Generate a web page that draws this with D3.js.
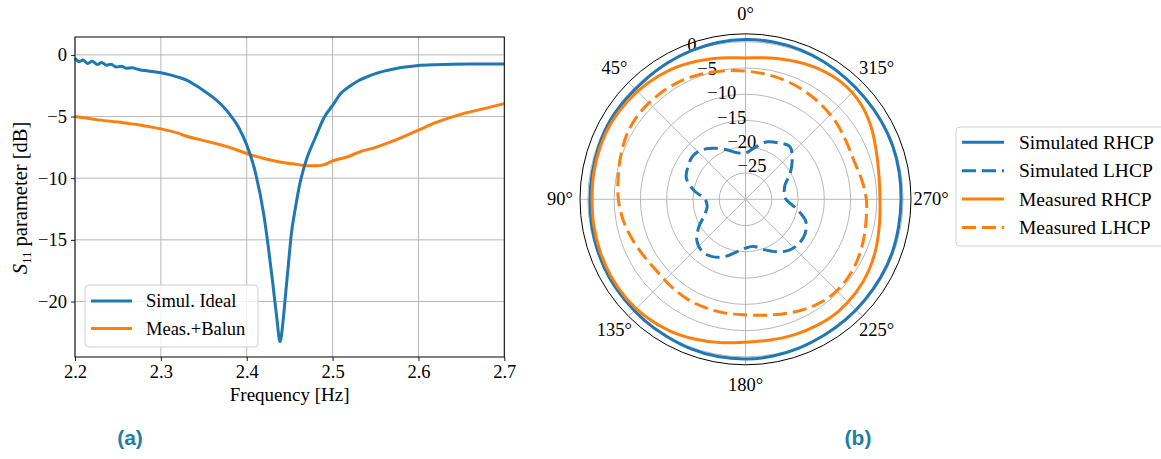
<!DOCTYPE html>
<html><head><meta charset="utf-8">
<script src="https://cdn.jsdelivr.net/npm/d3@7"></script>
<style>body{margin:0;background:#fff}svg{display:block}</style>
</head><body><svg id="c" width="1161" height="459"></svg>
<script>
// ---------- data: left panel (S11) ----------
const xTicks = [2.2, 2.3, 2.4, 2.5, 2.6, 2.7];
const xTickLabels = ["2.2", "2.3", "2.4", "2.5", "2.6", "2.7"];
const yTicks = [0, -5, -10, -15, -20];
const yTickLabels = ["0", "\u22125", "\u221210", "\u221215", "\u221220"];
const simFreq = [2.200,2.205,2.209,2.215,2.220,2.226,2.231,2.237,2.242,2.248,2.254,2.260,2.266,2.275,2.285,2.300,2.310,2.320,2.330,2.340,2.350,2.360,2.370,2.380,2.390,2.400,2.410,2.420,2.425,2.430,2.435,2.4388,2.442,2.4446,2.448,2.452,2.457,2.462,2.466,2.470,2.475,2.480,2.490,2.500,2.510,2.520,2.530,2.540,2.550,2.560,2.570,2.580,2.590,2.600,2.620,2.640,2.660,2.680,2.700];
const simS11 = [-0.27,-0.55,-0.42,-0.70,-0.52,-0.78,-0.62,-0.85,-0.75,-0.98,-0.92,-1.08,-1.05,-1.20,-1.30,-1.45,-1.60,-1.80,-2.05,-2.45,-2.90,-3.40,-4.00,-4.80,-5.80,-7.30,-9.50,-13.0,-15.5,-18.3,-21.3,-23.25,-21.8,-19.9,-17.4,-14.5,-12.3,-10.4,-9.3,-8.4,-7.5,-6.7,-5.1,-4.1,-3.1,-2.55,-2.10,-1.78,-1.52,-1.32,-1.16,-1.03,-0.94,-0.87,-0.80,-0.76,-0.74,-0.73,-0.73];
const measFreq = [2.200,2.225,2.250,2.280,2.300,2.320,2.330,2.350,2.380,2.400,2.420,2.440,2.460,2.470,2.480,2.490,2.500,2.520,2.530,2.550,2.570,2.600,2.620,2.650,2.680,2.700];
const measS11 = [-5.0,-5.25,-5.45,-5.75,-6.0,-6.35,-6.6,-6.95,-7.5,-8.0,-8.4,-8.7,-8.9,-9.0,-9.0,-8.9,-8.6,-8.2,-7.9,-7.5,-7.0,-6.1,-5.5,-4.8,-4.3,-3.95];

// ---------- data: right panel (polar pattern, theta deg counter-clockwise from top) ----------
const theta = [0,10,20,30,40,50,60,70,80,90,100,110,120,130,140,150,160,170,180,190,200,210,220,230,240,250,260,270,280,290,300,310,320,330,340,350];
const simRHCP = [0.4,0.3,0.1,-0.1,-0.3,-0.3,-0.2,-0.3,-0.4,-0.4,-0.3,-0.2,-0.1,-0.1,0.0,0.1,0.3,0.4,0.4,0.3,0.1,-0.1,-0.2,-0.3,-0.3,-0.3,-0.4,-0.4,-0.3,-0.2,-0.2,-0.2,-0.1,0.1,0.3,0.4];
const simLHCP = [-21.2,-21.0,-20.0,-18.8,-17.6,-17.0,-17.4,-18.0,-20.0,-22.3,-22.6,-21.8,-19.8,-17.9,-17.1,-17.4,-18.4,-19.8,-20.7,-20.9,-19.8,-18.5,-17.3,-16.8,-16.9,-17.8,-20.3,-22.3,-22.5,-22.0,-20.2,-18.4,-16.9,-17.6,-18.4,-20.0];
const measRHCP = [-3.1,-2.7,-2.1,-1.5,-1.1,-0.8,-0.6,-0.6,-0.7,-0.8,-0.7,-0.6,-0.5,-0.5,-0.7,-1.1,-1.7,-2.3,-2.8,-2.8,-2.6,-2.4,-2.3,-2.5,-2.9,-3.5,-4.1,-4.4,-4.2,-3.5,-2.4,-1.5,-1.2,-1.5,-2.1,-2.7];
const measLHCP = [-5.6,-5.2,-4.7,-4.3,-4.1,-4.0,-4.2,-4.8,-5.4,-5.8,-6.4,-7.2,-7.9,-8.3,-8.2,-8.0,-8.0,-8.0,-8.0,-7.6,-6.9,-6.1,-5.5,-5.4,-5.7,-6.2,-6.7,-7.0,-7.6,-8.1,-7.9,-7.4,-7.0,-6.6,-6.2,-5.9];
const rTicks = [0, -5, -10, -15, -20, -25];
const rTickLabels = ["0", "\u22125", "\u221210", "\u221215", "\u221220", "\u221225"];
const angleTicks = [0, 45, 90, 135, 180, 225, 270, 315];
const angleTickLabels = ["0\u00b0","45\u00b0","90\u00b0","135\u00b0","180\u00b0","225\u00b0","270\u00b0","315\u00b0"];
const polarSeries = ["Simulated RHCP", "Simulated LHCP", "Measured RHCP", "Measured LHCP"];
const lineSeries = ["Simul. Ideal", "Meas.+Balun"];

const BLUE = "#1f77b4", ORANGE = "#ff7f0e", GRID = "#b0b0b0";
const SERIF = "'Liberation Serif','Times New Roman',serif";
const svg = d3.select("#c");

// ================= LEFT PANEL =================
const L = {x0: 75, x1: 504.3, y0: 37, y1: 357};
const x = d3.scaleLinear([2.2, 2.7], [L.x0, L.x1]);
const y = d3.scaleLinear([-24.5, 1.45], [L.y1, L.y0]);
const gL = svg.append("g");
gL.append("g").selectAll("line").data(xTicks).join("line")
  .attr("x1", d => x(d)).attr("x2", d => x(d)).attr("y1", L.y0).attr("y2", L.y1)
  .attr("stroke", GRID).attr("stroke-width", 0.9);
gL.append("g").selectAll("line").data(yTicks).join("line")
  .attr("y1", d => y(d)).attr("y2", d => y(d)).attr("x1", L.x0).attr("x2", L.x1)
  .attr("stroke", GRID).attr("stroke-width", 0.9);
const xAxis = d3.axisBottom(x).tickValues(xTicks).tickSize(4).tickPadding(4)
  .tickFormat((d, i) => xTickLabels[i]);
const yAxis = d3.axisLeft(y).tickValues(yTicks).tickSize(4).tickPadding(4)
  .tickFormat((d, i) => yTickLabels[i]);
const gx = gL.append("g").attr("transform", `translate(0,${L.y1})`).call(xAxis);
const gy = gL.append("g").attr("transform", `translate(${L.x0},0)`).call(yAxis);
[gx, gy].forEach(g => {
  g.select(".domain").remove();
  g.selectAll("text").attr("font-family", SERIF).attr("font-size", 18.5).attr("fill", "#000");
  g.selectAll("line").attr("stroke", "#000").attr("stroke-width", 0.9);
});
const lineGen = d3.line().x(d => x(d[0])).y(d => y(d[1])).curve(d3.curveMonotoneX);
gL.append("path").datum(measFreq.map((f, i) => [f, measS11[i]]))
  .attr("d", lineGen).attr("fill", "none").attr("stroke", ORANGE).attr("stroke-width", 3);
gL.append("path").datum(simFreq.map((f, i) => [f, simS11[i]]))
  .attr("d", lineGen).attr("fill", "none").attr("stroke", BLUE).attr("stroke-width", 3)
  .attr("stroke-linejoin", "round");
gL.append("rect").attr("x", L.x0).attr("y", L.y0).attr("width", L.x1 - L.x0).attr("height", L.y1 - L.y0)
  .attr("fill", "none").attr("stroke", "#000").attr("stroke-width", 1);
gL.append("text").attr("x", (L.x0 + L.x1) / 2).attr("y", 401).attr("text-anchor", "middle")
  .attr("font-family", SERIF).attr("font-size", 19).text("Frequency [Hz]");
const yl = gL.append("text").attr("transform", `translate(27,198) rotate(-90)`).attr("text-anchor", "middle")
  .attr("font-family", SERIF).attr("font-size", 20.5);
yl.append("tspan").attr("font-style", "italic").text("S");
yl.append("tspan").attr("font-size", 13).attr("dy", 4).text("11");
yl.append("tspan").attr("dy", -4).text(" parameter [dB]");
const lg = gL.append("g");
lg.append("rect").attr("x", 85).attr("y", 285).attr("width", 173).attr("height", 62).attr("rx", 4)
  .attr("fill", "#fff").attr("fill-opacity", 0.8).attr("stroke", "#d0d0d0");
lineSeries.forEach((name, i) => {
  const yy = 301 + i * 27.5;
  lg.append("line").attr("x1", 91).attr("x2", 132).attr("y1", yy).attr("y2", yy)
    .attr("stroke", i === 0 ? BLUE : ORANGE).attr("stroke-width", 3);
  lg.append("text").attr("x", 146).attr("y", yy + 6).attr("font-family", SERIF).attr("font-size", 18.5).text(name);
});
svg.append("text").attr("x", 130).attr("y", 445).attr("text-anchor", "middle")
  .attr("font-family", "'Liberation Sans',Arial,sans-serif").attr("font-weight", "bold")
  .attr("font-size", 21).attr("fill", "#1d7fa6").text("(a)");

// ================= RIGHT PANEL (polar) =================
const cx = 745.5, cy = 199.3, R = 165.5;
const r = d3.scaleLinear([-30, 1.5], [0, R]);
const gP = svg.append("g").attr("transform", `translate(${cx},${cy})`);
const rad = t => t * Math.PI / 180;
gP.selectAll("circle.g").data(rTicks).join("circle").attr("r", d => r(d))
  .attr("fill", "none").attr("stroke", GRID).attr("stroke-width", 0.9);
gP.selectAll("line.sp").data(angleTicks).join("line")
  .attr("x1", 0).attr("y1", 0)
  .attr("x2", d => -Math.sin(rad(d)) * R).attr("y2", d => -Math.cos(rad(d)) * R)
  .attr("stroke", GRID).attr("stroke-width", 0.9);
const rl = rad(22.5);
gP.selectAll("text.rl").data(rTicks).join("text")
  .attr("x", d => -Math.sin(rl) * r(d) + 2).attr("y", d => -Math.cos(rl) * r(d) - 3)
  .attr("font-family", SERIF).attr("font-size", 18.5).text((d, i) => rTickLabels[i]);
gP.selectAll("text.al").data(angleTicks).join("text")
  .attr("x", d => -Math.sin(rad(d)) * (R + 20)).attr("y", d => -Math.cos(rad(d)) * (R + 20))
  .attr("text-anchor", "middle").attr("dominant-baseline", "central")
  .attr("font-family", SERIF).attr("font-size", 18.5).text((d, i) => angleTickLabels[i]);
const radial = d3.lineRadial().angle(d => -rad(d[0])).radius(d => r(d[1])).curve(d3.curveCatmullRomClosed);
const polarData = [simRHCP, simLHCP, measRHCP, measLHCP];
const polarStyle = [[BLUE, null], [BLUE, "14,6"], [ORANGE, null], [ORANGE, "14,6"]];
polarData.forEach((vals, i) => {
  gP.append("path").datum(theta.map((t, k) => [t, vals[k]])).attr("d", radial)
    .attr("fill", "none").attr("stroke", polarStyle[i][0]).attr("stroke-width", 3)
    .attr("stroke-dasharray", polarStyle[i][1]);
});
gP.append("circle").attr("r", R).attr("fill", "none").attr("stroke", "#000").attr("stroke-width", 1);
const lg2 = svg.append("g");
lg2.append("rect").attr("x", 956).attr("y", 127).attr("width", 212).attr("height", 119).attr("rx", 4)
  .attr("fill", "#fff").attr("fill-opacity", 0.8).attr("stroke", "#d0d0d0");
polarSeries.forEach((name, i) => {
  const yy = 142.3 + i * 28.4;
  lg2.append("line").attr("x1", 962).attr("x2", 1004).attr("y1", yy).attr("y2", yy)
    .attr("stroke", polarStyle[i][0]).attr("stroke-width", 3).attr("stroke-dasharray", polarStyle[i][1]);
  lg2.append("text").attr("x", 1019).attr("y", yy + 6.5).attr("font-family", SERIF).attr("font-size", 19.5).text(name);
});
svg.append("text").attr("x", 858).attr("y", 445).attr("text-anchor", "middle")
  .attr("font-family", "'Liberation Sans',Arial,sans-serif").attr("font-weight", "bold")
  .attr("font-size", 21).attr("fill", "#1d7fa6").text("(b)");
</script></body></html>
